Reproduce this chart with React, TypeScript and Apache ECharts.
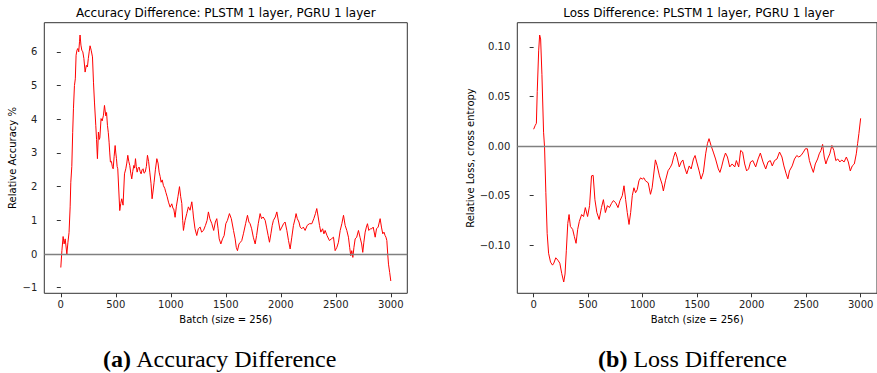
import React, { useEffect, useRef } from "react";
import * as echarts from "echarts";

const xTicks = [0, 500, 1000, 1500, 2000, 2500, 3000];
const accTicks = [-1, 0, 1, 2, 3, 4, 5, 6];
const lossTicks = [-0.1, -0.05, 0, 0.05, 0.1];

const accBatch = [
  0, 10, 21, 30, 40, 55, 65, 75, 85, 91, 100, 108, 115, 124, 132, 139, 147, 155, 163, 170, 175, 183, 191, 200, 210,
  221, 232, 242, 250, 258, 266, 276, 288, 297, 306, 318, 325, 333, 342, 350, 355, 366, 376, 388, 397, 409, 416, 424,
  432, 439, 445, 451, 460, 468, 476, 485, 494, 500, 506, 512, 518, 527, 536, 545, 554, 566, 579, 591, 600, 609, 618,
  627, 636, 645, 654, 664, 671, 679, 686, 694, 703, 712, 721, 730, 739, 748, 757, 767, 778, 788, 798, 809, 820, 830,
  840, 848, 860, 873, 884, 894, 903, 912, 922, 933, 945, 955, 967, 979, 994, 1009, 1020, 1027, 1039, 1050, 1065, 1079,
  1090, 1100, 1108, 1115, 1122, 1130, 1145, 1160, 1175, 1191, 1200, 1206, 1220, 1236, 1250, 1267, 1280, 1297, 1315,
  1330, 1342, 1355, 1373, 1390, 1405, 1418, 1430, 1440, 1455, 1470, 1485, 1500, 1515, 1533, 1550, 1570, 1585, 1595,
  1606, 1620, 1633, 1645, 1660, 1680, 1697, 1710, 1721, 1735, 1750, 1767, 1780, 1795, 1812, 1825, 1840, 1858, 1870,
  1885, 1897, 1910, 1922, 1933, 1950, 1964, 1980, 1994, 2010, 2025, 2039, 2055, 2070, 2085, 2100, 2115, 2130, 2139,
  2150, 2165, 2176, 2190, 2205, 2221, 2240, 2260, 2282, 2300, 2315, 2327, 2340, 2352, 2364, 2380, 2392, 2403, 2420,
  2442, 2460, 2479, 2494, 2510, 2524, 2540, 2555, 2570, 2585, 2600, 2615, 2626, 2636, 2645, 2655, 2665, 2676, 2690,
  2706, 2720, 2735, 2745, 2755, 2767, 2778, 2788, 2800, 2815, 2827, 2840, 2858, 2870, 2885, 2903, 2915, 2927, 2938,
  2948, 2956, 2964, 2972, 2979, 2990, 3000,
];
const accValue = [
  -0.4, 0.1, 0.52, 0.3, 0.45, 0.0, 0.35, 0.64, 1.4, 2.13, 2.6, 3.6, 4.31, 5.0, 5.2, 5.9, 6.05, 6.1, 6.0, 6.3, 6.5, 6.2,
  6.05, 6.0, 5.8, 5.4, 5.6, 5.55, 5.8, 6.0, 6.18, 6.05, 5.85, 5.1, 4.51, 3.82, 3.4, 2.83, 3.62, 3.4, 3.45, 4.02, 3.95,
  4.12, 4.41, 4.1, 4.2, 3.82, 3.6, 3.32, 3.0, 2.73, 2.75, 2.6, 2.53, 2.9, 3.22, 3.0, 2.83, 2.6, 2.53, 1.9, 1.29, 1.5,
  1.64, 1.45, 2.38, 2.53, 2.7, 2.93, 2.75, 2.63, 2.4, 2.23, 2.45, 2.63, 2.55, 2.83, 2.6, 2.43, 2.55, 2.58, 2.45, 2.38,
  2.5, 2.53, 2.4, 2.43, 2.6, 2.93, 2.75, 2.43, 2.1, 1.64, 1.9, 2.13, 2.5, 2.83, 2.7, 2.43, 2.3, 2.13, 2.2, 2.03, 1.95,
  1.83, 1.7, 1.54, 1.39, 1.49, 1.35, 1.34, 1.09, 1.4, 1.7, 2.0, 1.7, 1.5, 1.0, 0.7, 0.85, 1.0, 1.2, 1.4, 1.3, 1.55,
  1.3, 1.1, 0.75, 0.55, 0.75, 0.8, 0.65, 0.7, 0.85, 1.0, 1.25, 1.05, 0.9, 0.7, 0.95, 1.05, 0.75, 0.45, 0.3, 0.45, 0.55,
  0.9, 1.0, 1.2, 1.05, 0.7, 0.45, 0.2, 0.1, 0.3, 0.35, 0.4, 0.6, 0.9, 1.15, 0.95, 0.9, 0.75, 0.5, 0.3, 0.55, 0.9, 1.2,
  1.05, 1.1, 1.0, 0.8, 0.55, 0.35, 0.6, 0.85, 1.0, 1.1, 1.25, 0.95, 0.7, 0.8, 0.9, 0.95, 0.7, 0.4, 0.15, 0.5, 0.85,
  1.05, 1.2, 1.05, 0.95, 0.8, 0.75, 0.8, 0.7, 0.85, 0.9, 0.9, 1.05, 1.2, 1.35, 1.1, 0.85, 0.65, 0.75, 0.6, 0.7, 0.55,
  0.4, 0.45, 0.5, 0.1, 0.2, 0.35, 0.7, 0.9, 1.15, 0.85, 0.7, 0.5, 0.2, -0.05, 0.1, -0.1, 0.2, 0.45, 0.5, 0.7, 0.5, 0.3,
  0.05, 0.35, 0.65, 0.8, 0.9, 0.7, 0.75, 0.75, 0.8, 0.5, 0.75, 0.8, 1.05, 0.8, 0.6, 0.65, 0.55, 0.5, 0.4, 0.0, -0.3,
  -0.55, -0.8,
];

const lossBatch = [
  0, 15, 25, 33, 46, 55, 64, 76, 91, 100, 112, 124, 137, 155, 173, 185, 203, 222, 240, 258, 276, 288, 300, 313, 325,
  337, 358, 373, 389, 404, 419, 440, 458, 474, 495, 513, 531, 546, 562, 580, 601, 622, 640, 658, 677, 695, 713, 731,
  752, 774, 792, 813, 829, 844, 859, 875, 890, 905, 920, 935, 950, 966, 981, 996, 1011, 1026, 1051, 1072, 1087, 1117,
  1133, 1154, 1178, 1190, 1209, 1233, 1254, 1269, 1284, 1300, 1315, 1336, 1354, 1369, 1384, 1405, 1427, 1445, 1466,
  1481, 1496, 1518, 1536, 1557, 1578, 1594, 1609, 1627, 1648, 1669, 1694, 1709, 1724, 1742, 1760, 1778, 1799, 1821,
  1845, 1860, 1881, 1899, 1917, 1936, 1954, 1972, 1990, 2011, 2037, 2059, 2080, 2104, 2129, 2150, 2171, 2189, 2210,
  2232, 2256, 2278, 2296, 2317, 2332, 2347, 2372, 2393, 2414, 2432, 2453, 2475, 2493, 2511, 2530, 2548, 2566, 2584,
  2605, 2620, 2636, 2651, 2666, 2681, 2696, 2717, 2736, 2754, 2772, 2790, 2809, 2827, 2848, 2869, 2887, 2905, 2923,
  2942, 2960, 2972, 2984, 3000,
];
const lossValue = [
  0.017, 0.021, 0.023, 0.055, 0.096, 0.112, 0.108, 0.072, 0.014, -0.001, -0.047, -0.088, -0.108, -0.117, -0.12,
  -0.118, -0.1126, -0.115, -0.118, -0.1286, -0.137, -0.129, -0.105, -0.078, -0.069, -0.081, -0.084, -0.091, -0.098,
  -0.084, -0.076, -0.069, -0.071, -0.062, -0.071, -0.06, -0.03, -0.0295, -0.054, -0.067, -0.074, -0.062, -0.054,
  -0.067, -0.06, -0.062, -0.058, -0.055, -0.057, -0.062, -0.055, -0.05, -0.04, -0.054, -0.067, -0.079, -0.067, -0.05,
  -0.042, -0.047, -0.044, -0.035, -0.032, -0.0333, -0.032, -0.035, -0.037, -0.0486, -0.042, -0.0139, -0.0197, -0.03,
  -0.0384, -0.0452, -0.035, -0.0248, -0.0214, -0.018, -0.0112, -0.006, -0.011, -0.021, -0.016, -0.014, -0.021, -0.028,
  -0.02, -0.023, -0.013, -0.0095, -0.016, -0.025, -0.0333, -0.0265, -0.0078, 0.0024, 0.0075, 0.0007, -0.006, -0.013,
  -0.023, -0.0265, -0.021, -0.013, -0.007, -0.011, -0.021, -0.018, -0.021, -0.0146, -0.021, -0.0044, -0.006, -0.018,
  -0.025, -0.023, -0.016, -0.0146, -0.021, -0.013, -0.007, -0.016, -0.0231, -0.016, -0.0146, -0.02, -0.0146, -0.013,
  -0.006, -0.011, -0.02, -0.028, -0.033, -0.025, -0.02, -0.013, -0.0095, -0.011, -0.0095, -0.006, -0.0027, -0.0027,
  -0.0146, -0.021, -0.0265, -0.018, -0.013, -0.0078, -0.0044, 0.0017, -0.011, -0.018, -0.013, -0.0078, 0.0007,
  -0.0044, -0.0146, -0.013, -0.016, -0.014, -0.016, -0.011, -0.016, -0.025, -0.02, -0.018, -0.0078, 0.0024, 0.0126,
  0.028,
];

const FONT = "'DejaVu Sans', sans-serif";
const SERIF = "'Liberation Serif', 'Times New Roman', serif";
const minus = (s: string) => s.replace("-", "\u2212");

function makeXAxis(gridIndex: number) {
  return {
    type: "value",
    gridIndex,
    min: -150,
    max: 3150,
    name: "Batch (size = 256)",
    nameLocation: "middle",
    nameGap: 21,
    nameTextStyle: { fontFamily: FONT, fontSize: 10, color: "#000" },
    axisLine: { show: false, onZero: false },
    axisTick: { show: true, length: 4, lineStyle: { color: "#333", width: 1 }, customValues: xTicks },
    axisLabel: {
      fontFamily: FONT,
      fontSize: 10,
      color: "#222",
      margin: 6,
      customValues: xTicks,
      formatter: (v: number) => minus(String(v)),
    },
    splitLine: { show: false },
  };
}

export default function App() {
  const ref = useRef<HTMLDivElement>(null);
  useEffect(() => {
    if (!ref.current) return;
    const chart = echarts.init(ref.current, null, { renderer: "svg" });
    const zeroLine = {
      silent: true,
      symbol: ["none", "none"],
      label: { show: false },
      lineStyle: { color: "#808080", width: 1.3, type: "solid" },
      data: [{ yAxis: 0 }],
    };
    chart.setOption({
      animation: false,
      grid: [
        { left: 44.3, top: 22.7, width: 363, height: 270.6, show: true, borderColor: "#333", borderWidth: 1, backgroundColor: "transparent" },
        { left: 517.3, top: 22.7, width: 362.7, height: 270.6, show: true, borderColor: "#333", borderWidth: 1, backgroundColor: "transparent" },
      ],
      xAxis: [makeXAxis(0), makeXAxis(1)],
      yAxis: [
        {
          type: "value",
          gridIndex: 0,
          min: -1.165,
          max: 6.865,
          name: "Relative Accuracy %",
          nameLocation: "middle",
          nameGap: 27,
          nameTextStyle: { fontFamily: FONT, fontSize: 10, color: "#000" },
          axisLine: { show: false },
          axisTick: { show: true, length: 4, lineStyle: { color: "#333", width: 1 }, customValues: accTicks },
          axisLabel: {
            fontFamily: FONT,
            fontSize: 10,
            color: "#222",
            margin: 7,
            customValues: accTicks,
            formatter: (v: number) => minus(String(Math.round(v))),
          },
          splitLine: { show: false },
        },
        {
          type: "value",
          gridIndex: 1,
          min: -0.1484,
          max: 0.1244,
          name: "Relative Loss, cross entropy",
          nameLocation: "middle",
          nameGap: 42,
          nameTextStyle: { fontFamily: FONT, fontSize: 10, color: "#000" },
          axisLine: { show: false },
          axisTick: { show: true, length: 4, lineStyle: { color: "#333", width: 1 }, customValues: lossTicks },
          axisLabel: {
            fontFamily: FONT,
            fontSize: 10,
            color: "#222",
            margin: 7,
            customValues: lossTicks,
            formatter: (v: number) => minus(v.toFixed(2)),
          },
          splitLine: { show: false },
        },
      ],
      series: [
        {
          type: "line",
          xAxisIndex: 0,
          yAxisIndex: 0,
          showSymbol: false,
          symbol: "none",
          data: accBatch.map((b, i) => [b, accValue[i]]),
          lineStyle: { color: "#ff0000", width: 1 },
          markLine: zeroLine,
          z: 3,
        },
        {
          type: "line",
          xAxisIndex: 1,
          yAxisIndex: 1,
          showSymbol: false,
          symbol: "none",
          data: lossBatch.map((b, i) => [b, lossValue[i]]),
          lineStyle: { color: "#ff0000", width: 1 },
          markLine: zeroLine,
          z: 3,
        },
      ],
      graphic: [
        {
          type: "text",
          x: 225.8,
          y: 13,
          style: {
            text: "Accuracy Difference: PLSTM 1 layer, PGRU 1 layer",
            fontFamily: FONT,
            fontSize: 12,
            fill: "#000",
            align: "center",
            verticalAlign: "middle",
            textAlign: "center",
            textVerticalAlign: "middle",
          },
        },
        {
          type: "text",
          x: 698.7,
          y: 13,
          style: {
            text: "Loss Difference: PLSTM 1 layer, PGRU 1 layer",
            fontFamily: FONT,
            fontSize: 12,
            fill: "#000",
            align: "center",
            verticalAlign: "middle",
            textAlign: "center",
            textVerticalAlign: "middle",
          },
        },
        {
          type: "text",
          x: 220,
          y: 359,
          style: {
            text: "{b|(a)} Accuracy Difference",
            fontFamily: SERIF,
            fontSize: 24,
            fill: "#000",
            align: "center",
            verticalAlign: "middle",
            textAlign: "center",
            textVerticalAlign: "middle",
            rich: { b: { fontFamily: SERIF, fontSize: 24, fontWeight: "bold", fill: "#000" } },
          },
        },
        {
          type: "text",
          x: 692.5,
          y: 359,
          style: {
            text: "{b|(b)} Loss Difference",
            fontFamily: SERIF,
            fontSize: 24,
            fill: "#000",
            align: "center",
            verticalAlign: "middle",
            textAlign: "center",
            textVerticalAlign: "middle",
            rich: { b: { fontFamily: SERIF, fontSize: 24, fontWeight: "bold", fill: "#000" } },
          },
        },
      ],
    });
    return () => chart.dispose();
  }, []);
  return (
    <div
      ref={ref}
      style={{ position: "absolute", left: 0, top: 0, width: 877, height: 373, background: "#fff" }}
    />
  );
}
